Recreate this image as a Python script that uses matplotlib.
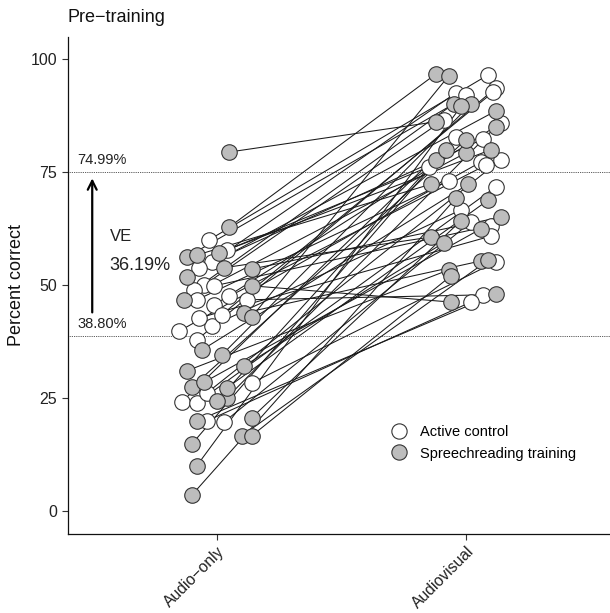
import numpy as np
import matplotlib
matplotlib.use("Agg")
import matplotlib.pyplot as plt
from matplotlib.lines import Line2D

plt.rcParams['font.family'] = ['Liberation Sans', 'DejaVu Sans']

conditions = ["Audio\u2212only", "Audiovisual"]
groups = ["Active control", "Spreechreading training"]

# speechreading training group: audio-only score, jitter, audiovisual score, jitter
train_ao = [79.4, 62.8, 56.2, 56.6, 57.1, 53.8, 51.8, 53.5, 49.8, 46.7, 43.8, 42.9, 35.6, 34.5,
            32.1, 31.0, 27.4, 28.5, 25.0, 24.3, 19.9, 20.6, 16.6, 16.6, 14.8, 10.0, 3.5, 27.2]
train_ao_dx = [.05, .05, -.12, -.08, .01, .03, -.12, .14, .14, -.13, .11, .14, -.06, .02,
               .11, -.12, -.10, -.05, .04, .00, -.08, .14, .10, .14, -.10, -.08, -.10, .04]
train_av = [86.1, 96.7, 90.0, 72.3, 79.9, 60.6, 88.5, 65.0, 46.2, 79.2, 55.3, 96.2, 72.3, 90.0,
            59.3, 53.3, 82.1, 62.4, 85.0, 77.7, 48.0, 64.2, 55.5, 52.0, 79.9, 89.5, 69.2, 68.8]
train_av_dx = [-.12, -.12, -.05, -.14, .10, -.14, .12, .14, -.06, .00, .06, -.07, .01, .02,
               -.09, -.07, .00, .06, .12, -.12, .12, -.02, .09, -.06, -.08, -.02, -.04, .09]

# active control group
ctrl_ao = [60.0, 57.7, 55.1, 53.8, 50.0, 49.8, 48.9, 46.7, 45.6, 46.7, 39.8, 40.9, 37.8, 42.7,
           28.3, 24.1, 23.9, 19.9, 19.7, 26.1, 43.4, 47.5]
ctrl_ao_dx = [-.03, .04, -.02, -.07, -.05, -.01, -.09, -.08, -.01, .12, -.15, -.02, -.08, -.07,
              .14, -.14, -.08, -.04, .03, -.04, .02, .05]
ctrl_av = [96.5, 76.1, 92.5, 82.3, 86.5, 63.1, 92.0, 73.0, 85.8, 47.8, 77.2, 66.6, 93.6, 60.8,
           55.1, 82.7, 71.7, 46.2, 63.9, 77.7, 92.7, 76.5]
ctrl_av_dx = [.09, -.15, -.04, .07, -.09, .10, .00, -.07, .14, .07, .06, -.02, .12, .10,
              .12, -.04, .12, .02, .02, .14, .11, .08]

mean_ao = 38.80
mean_av = 74.99
ve_text = "36.19%"

fill_ctrl = "white"
fill_train = "#bdbdbd"
edge = "#333333"

fig = plt.figure(figsize=(6.10, 6.13), dpi=100)
ax = fig.add_axes([0.111, 0.129, 0.889, 0.811])

x_ao, x_av = 1, 2
data = [(ctrl_ao, ctrl_ao_dx, ctrl_av, ctrl_av_dx, fill_ctrl),
        (train_ao, train_ao_dx, train_av, train_av_dx, fill_train)]

# connecting lines first
for ao, aodx, av, avdx, _ in data:
    for a, adx, b, bdx in zip(ao, aodx, av, avdx):
        ax.plot([x_ao + adx, x_av + bdx], [a, b], color="#1a1a1a", lw=0.75, zorder=2)

# points on top
for ao, aodx, av, avdx, fc in data:
    xs = np.concatenate([x_ao + np.array(aodx), x_av + np.array(avdx)])
    ys = np.concatenate([ao, av])
    ax.scatter(xs, ys, s=125, facecolor=fc, edgecolor=edge, linewidth=0.8, zorder=3)

# reference means
for m in (mean_ao, mean_av):
    ax.axhline(m, color="#222222", lw=0.6, ls=(0, (1, 1.2)), zorder=1)
    ax.text(0.44, m + 1.0, f"{m:.2f}%", fontsize=10.5, color="#222222", va="bottom")

ax.annotate("", xy=(0.50, mean_av - 0.8), xytext=(0.50, mean_ao + 4.5),
            arrowprops=dict(arrowstyle="->", lw=1.6, color="black", mutation_scale=16))
ax.text(0.57, 60.6, "VE", fontsize=12, va="center", color="#222222")
ax.text(0.57, 54.4, ve_text, fontsize=13, va="center", color="#222222")

ax.set_xlim(0.4016, 2.578)
ax.set_ylim(-5.1, 104.9)
ax.set_xticks([x_ao, x_av])
ax.set_xticklabels(conditions, rotation=45, ha="right", rotation_mode="anchor", fontsize=11.3)
ax.set_yticks([0, 25, 50, 75, 100])
ax.tick_params(axis="both", colors="#333333", length=4, width=0.8, labelcolor="#222222")
ax.tick_params(axis="x", pad=3)
ax.tick_params(axis="y", labelsize=11.5)
ax.set_ylabel("Percent correct", fontsize=13, color="#111111")

for s in ("top", "right"):
    ax.spines[s].set_visible(False)
for s in ("left", "bottom"):
    ax.spines[s].set_linewidth(0.9)
    ax.spines[s].set_color("#111111")

handles = [Line2D([], [], marker="o", ls="", markersize=11, markerfacecolor=fc,
                  markeredgecolor=edge, markeredgewidth=0.8) for fc in (fill_ctrl, fill_train)]
ax.legend(handles, groups, loc="upper left", bbox_to_anchor=(0.56, 0.245), frameon=False,
          fontsize=10.5, handletextpad=0.4, labelspacing=0.5)

fig.text(0.111, 0.972, "Pre\u2212training", fontsize=13, va="center", ha="left", color="#111111")

fig.savefig("out.png", dpi=100)
